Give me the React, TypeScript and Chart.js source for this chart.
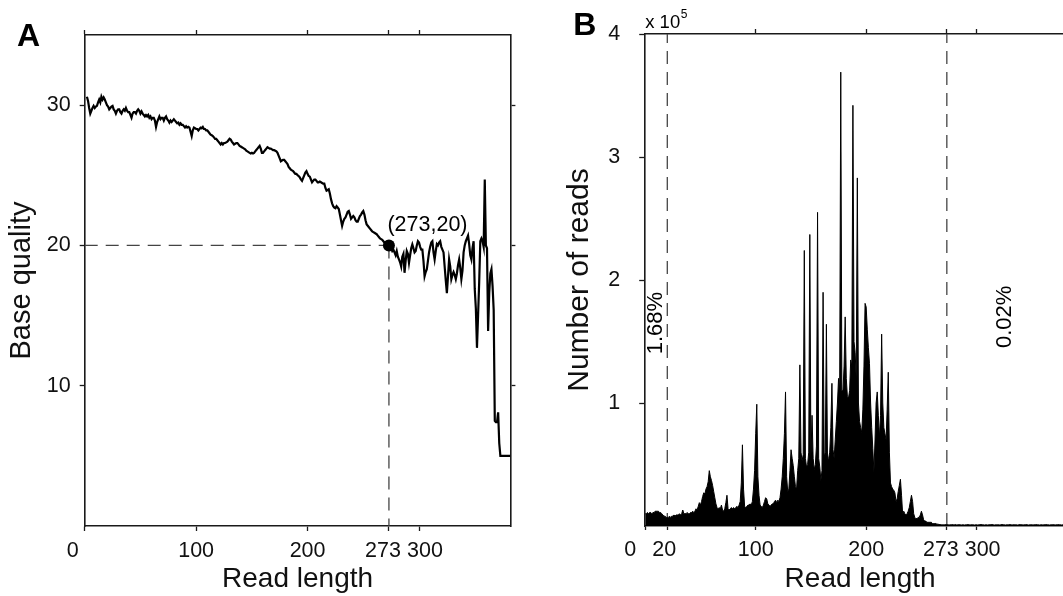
import React, { useEffect, useRef } from "react";
import { Chart, registerables } from "chart.js";

Chart.register(...registerables);

const FONT = '"Liberation Sans", Arial, Helvetica, sans-serif';

// ---------------- Panel A: base quality along the read ----------------
const qualityStartLength = 2; // first read position shown
const baseQuality = [
  30.6, 30.3, 29.8, 29.4, 29.6, 29.8, 29.95, 29.8, 29.9, 29.95,
  30.2, 30.4, 30.2, 30.6, 30.4, 30.55, 30.4, 30.2, 30.0, 29.9,
  29.7, 29.8, 29.9, 29.95, 29.7, 29.6, 29.4, 29.6, 29.7, 29.7,
  29.5, 29.4, 29.6, 29.7, 29.6, 29.8, 29.6, 29.5, 29.5, 29.3,
  29.1, 29.4, 29.5, 29.5, 29.4, 29.6, 29.7, 29.6, 29.4, 29.55,
  29.4, 29.3, 29.2, 29.3, 29.2, 29.3, 29.1, 29.2, 29.0, 29.1,
  29.1, 28.9, 28.45, 28.8, 29.0, 29.2, 29.0, 29.1, 29.1, 28.9,
  29.1, 29.2, 29.0, 28.9, 28.75, 28.9, 28.8, 28.9, 29.0, 28.9,
  28.8, 28.7, 28.75, 28.6, 28.7, 28.6, 28.6, 28.5, 28.4, 28.5,
  28.4, 28.45, 28.4, 28.1, 27.8, 28.2, 28.4, 28.35, 28.3, 28.3,
  28.2, 28.3, 28.4, 28.35, 28.45, 28.3, 28.3, 28.2, 28.2, 28.1,
  28.0, 27.9, 27.85, 27.8, 27.7, 27.6, 27.6, 27.5, 27.4, 27.3,
  27.2, 27.3, 27.2, 27.3, 27.3, 27.35, 27.4, 27.5, 27.6, 27.55,
  27.4, 27.3, 27.2, 27.25, 27.3, 27.3, 27.2, 27.1, 27.05, 27.0,
  26.95, 26.9, 26.85, 26.75, 26.7, 26.65, 26.6, 26.55, 26.6, 26.55,
  26.6, 26.7, 26.8, 26.9, 27.0, 27.1, 26.9, 26.6, 26.6, 26.7,
  26.8, 26.9, 27.0, 26.95, 26.9, 26.9, 26.85, 26.8, 26.8, 26.75,
  26.7, 26.6, 26.4, 26.2, 26.0, 26.05, 26.1, 26.1, 26.0, 25.9,
  25.8, 25.6, 25.5, 25.4, 25.35, 25.3, 25.2, 25.1, 25.1, 25.0,
  24.95, 24.85, 24.7, 24.6, 24.8, 25.0, 25.2, 25.3, 25.1, 24.95,
  24.9, 24.7, 24.5, 24.6, 24.7, 24.7, 24.6, 24.5, 24.5, 24.55,
  24.5, 24.45, 24.4, 24.4, 24.1, 23.9, 23.95, 24.0, 23.7, 23.3,
  23.0, 22.8, 22.7, 22.65, 22.8, 22.7, 22.6, 22.2, 21.8, 21.4,
  21.7, 21.9, 22.0, 22.2, 22.4, 22.45, 22.2, 21.9, 22.0, 22.1,
  22.0, 21.8, 21.7, 21.7, 21.9, 22.1, 22.2, 22.35, 22.45, 22.2,
  21.8, 21.5, 21.4, 21.3, 21.2, 21.1, 21.0, 20.95, 20.9, 20.85,
  20.8, 20.7, 20.6, 20.5, 20.45, 20.4, 20.3, 20.2, 20.15, 20.1,
  20.05, 20.0, 19.9, 19.8, 19.6, 19.7, 19.5, 19.3, 19.6, 19.2,
  19.0, 18.8, 18.5, 19.2, 19.4, 18.05, 18.9, 19.6, 19.4, 18.76,
  19.3, 19.8, 20.07, 19.8, 19.5, 19.6, 20.0, 20.3, 20.2, 19.9,
  19.7, 19.7, 18.9, 17.8, 18.1, 18.3, 18.9, 19.5, 19.9, 20.2,
  20.3, 19.5, 19.0, 19.6, 20.1, 20.0, 20.2, 20.3, 19.9, 19.7,
  19.5, 18.5, 17.5, 16.6, 17.8, 19.0, 18.5, 17.6, 17.9, 18.1,
  17.9, 17.6, 18.0, 18.6, 19.0, 18.4, 17.6, 18.2, 19.5, 20.0,
  20.3, 20.5, 20.7, 20.1, 19.3, 19.0, 19.8, 20.3, 16.9, 15.5,
  12.7, 15.0, 17.4, 20.3, 20.5, 20.3, 19.9, 24.7, 20.0, 19.8,
  13.9, 16.6, 18.0, 18.3, 17.1, 15.4, 7.5, 7.4, 7.4, 8.1,
  5.9, 5.0, 5.0, 5.0, 5.0, 5.0, 5.0, 5.0, 5.0, 5.0, 5.0,
];
const thresholdLength = 273;
const thresholdQuality = 20;
const xTicksA = [0, 100, 200, 273, 300];
const xTickLabelsA = ["0", "100", "200", "273", "300"];
const yTicksA = [10, 20, 30];
const yTickLabelsA = ["10", "20", "30"];

// ---------------- Panel B: read length distribution (x 10^5 reads) ----------------
const readLengthStart = 0;
const readCounts = [
  0.10, 0.10, 0.11, 0.10, 0.11, 0.11, 0.10, 0.11, 0.11, 0.12,
  0.12, 0.12, 0.12, 0.11, 0.11, 0.10, 0.09, 0.08, 0.08, 0.07,
  0.07, 0.07, 0.08, 0.07, 0.08, 0.08, 0.09, 0.08, 0.09, 0.09,
  0.09, 0.10, 0.09, 0.10, 0.13, 0.10, 0.10, 0.10, 0.11, 0.10,
  0.10, 0.11, 0.11, 0.12, 0.11, 0.12, 0.14, 0.13, 0.16, 0.19,
  0.17, 0.20, 0.24, 0.27, 0.26, 0.30, 0.32, 0.36, 0.45, 0.40,
  0.37, 0.33, 0.28, 0.23, 0.18, 0.15, 0.14, 0.15, 0.14, 0.17,
  0.13, 0.12, 0.14, 0.19, 0.25, 0.14, 0.13, 0.14, 0.15, 0.14,
  0.15, 0.14, 0.15, 0.16, 0.15, 0.17, 0.20, 0.35, 0.66, 0.30,
  0.16, 0.15, 0.16, 0.17, 0.17, 0.18, 0.17, 0.20, 0.30, 0.45,
  0.75, 0.99, 0.40, 0.25, 0.17, 0.16, 0.15, 0.17, 0.20, 0.23,
  0.22, 0.18, 0.17, 0.16, 0.17, 0.18, 0.18, 0.20, 0.21, 0.19,
  0.21, 0.20, 0.23, 0.30, 0.40, 0.55, 0.75, 1.09, 0.40, 0.28,
  0.30, 0.45, 0.62, 0.55, 0.49, 0.40, 0.32, 0.30, 0.45, 0.55,
  1.31, 0.60, 0.53, 0.58, 2.24, 0.55, 0.48, 0.50, 0.60, 2.37,
  0.56, 0.90, 0.55, 0.46, 0.50, 0.65, 2.55, 0.55, 0.48, 0.37,
  0.45, 1.90, 0.56, 0.60, 1.64, 0.53, 0.55, 0.60, 0.80, 1.16,
  0.62, 0.55, 0.70, 0.85, 1.00, 1.20, 1.10, 3.69, 1.10, 1.10,
  1.30, 1.70, 1.20, 1.05, 1.04, 1.10, 1.35, 1.30, 3.42, 1.50,
  1.41, 1.20, 2.83, 1.00, 0.85, 0.80, 0.76, 0.95, 1.30, 1.81,
  1.78, 1.60, 1.45, 1.32, 1.00, 0.80, 0.63, 0.44, 0.70, 1.00,
  1.09, 0.90, 0.72, 0.90, 1.56, 1.00, 0.80, 0.75, 0.70, 0.95,
  1.25, 0.60, 0.35, 0.32, 0.30, 0.29, 0.27, 0.20, 0.22, 0.28,
  0.33, 0.38, 0.25, 0.10, 0.12, 0.10, 0.09, 0.10, 0.12, 0.15,
  0.20, 0.25, 0.20, 0.10, 0.07, 0.06, 0.06, 0.07, 0.07, 0.09,
  0.12, 0.09, 0.05, 0.04, 0.04, 0.03, 0.03, 0.03, 0.03, 0.03,
  0.02, 0.02, 0.02, 0.02, 0.015, 0.015, 0.012, 0.012, 0.01, 0.01,
  0.010, 0.010, 0.012, 0.010, 0.010, 0.008, 0.010, 0.010, 0.012, 0.010,
  0.010, 0.012, 0.008, 0.010, 0.010, 0.010, 0.008, 0.010, 0.010, 0.008,
  0.010, 0.010, 0.012, 0.010, 0.008, 0.010, 0.010, 0.010, 0.008, 0.010,
  0.010, 0.008, 0.010, 0.010, 0.012, 0.010, 0.010, 0.008, 0.010, 0.010,
  0.008, 0.010, 0.010, 0.010, 0.012, 0.010, 0.008, 0.010, 0.010, 0.010,
  0.010, 0.008, 0.010, 0.012, 0.010, 0.010, 0.008, 0.010, 0.010, 0.010,
  0.012, 0.010, 0.008, 0.010, 0.010, 0.010, 0.010, 0.008, 0.010, 0.012,
  0.010, 0.010, 0.008, 0.010, 0.010, 0.012, 0.010, 0.008, 0.010, 0.010,
  0.010, 0.008, 0.010, 0.010, 0.012, 0.010, 0.010, 0.008, 0.010, 0.010,
  0.008, 0.010, 0.010, 0.012, 0.010, 0.010, 0.008, 0.010, 0.010, 0.010,
  0.010, 0.008, 0.010, 0.010, 0.012, 0.010, 0.010, 0.008, 0.010, 0.010, 0.010,
];
const cutoffLengths = [20, 273];
const percentLabels = ["1.68%", "0.02%"];
const xTicksB = [0, 20, 100, 200, 273, 300];
const xTickLabelsB = ["0", "20", "100", "200", "273", "300"];
const xTopTicksB = [100, 200, 273, 300];
const yTicksB = [1, 2, 3, 4];
const yTickLabelsB = ["1", "2", "3", "4"];

// ---------------- styling helpers (not data) ----------------
const INK = "#111";
const LINE = "#1a1a1a";
const DASH_COLOR = "#444";
const TICK_FONT = { family: FONT, size: 21.5 };
// spaces used to nudge crowded tick labels sideways: [leading, trailing]
const nudgeA: Record<number, [number, number]> = { 0: [0, 4], 273: [0, 2], 300: [2, 0] };
const nudgeB: Record<number, [number, number]> = { 0: [0, 5], 20: [0, 1], 273: [0, 2], 300: [2, 0] };
const nudge = (label: string, n?: [number, number]) =>
  n ? " ".repeat(n[0]) + label + " ".repeat(n[1]) : label;

function axis(opts: any) {
  const { ticks, labels, size, side, nudges, showLabels, title, tickLen, labelPad, min, max } = opts;
  const horizontal = side === "top" || side === "bottom";
  return {
    type: "linear",
    position: side,
    min,
    max,
    afterBuildTicks: (s: any) => {
      s.ticks = ticks.map((v: number) => ({ value: v }));
    },
    afterFit: (s: any) => {
      if (horizontal) s.height = size;
      else s.width = size;
    },
    grid: {
      display: true,
      drawOnChartArea: false,
      drawTicks: true,
      tickLength: tickLen ?? 5,
      tickColor: LINE,
      tickWidth: 1.3,
    },
    border: { display: true, color: LINE, width: 1.6 },
    ticks: {
      display: !!showLabels,
      autoSkip: false,
      maxRotation: 0,
      minRotation: 0,
      color: INK,
      font: TICK_FONT,
      padding: labelPad ?? 8,
      callback: (v: number) => {
        const i = ticks.indexOf(v);
        const lbl = i >= 0 && labels ? labels[i] : String(v);
        return nudge(lbl, nudges ? nudges[v] : undefined);
      },
    },
    title: title
      ? {
          display: true,
          text: title.text,
          color: INK,
          font: { family: FONT, size: title.size, lineHeight: 1.2 },
          padding: title.padding,
        }
      : { display: false },
  };
}

const annotateA = {
  id: "annotateA",
  afterDraw(chart: any) {
    const { ctx, scales } = chart;
    ctx.save();
    ctx.fillStyle = "#000";
    ctx.textAlign = "left";
    ctx.textBaseline = "alphabetic";
    ctx.font = `bold 32px ${FONT}`;
    ctx.fillText("A", 17, 46);
    ctx.font = `21.5px ${FONT}`;
    ctx.fillText(
      `(${thresholdLength},${thresholdQuality})`,
      scales.x.getPixelForValue(thresholdLength) - 1.5,
      scales.y.getPixelForValue(thresholdQuality) - 14.5
    );
    ctx.restore();
  },
};

const percentLabelPlace = [
  { x: 9.8, y: 1.65 },
  { x: 325.6, y: 1.7 },
];

const annotateB = {
  id: "annotateB",
  afterDraw(chart: any) {
    const { ctx, scales, chartArea } = chart;
    ctx.save();
    ctx.fillStyle = "#000";
    ctx.textAlign = "left";
    ctx.textBaseline = "alphabetic";
    ctx.font = `bold 32px ${FONT}`;
    ctx.fillText("B", 43.3, 35);
    ctx.font = `18.5px ${FONT}`;
    ctx.fillText("x 10", chartArea.left, 28.3);
    const w = ctx.measureText("x 10").width;
    ctx.font = `12px ${FONT}`;
    ctx.fillText("5", chartArea.left + w + 0.5, 17.5);
    ctx.font = `22px ${FONT}`;
    ctx.textAlign = "center";
    ctx.textBaseline = "middle";
    percentLabels.forEach((t, i) => {
      const px = scales.x.getPixelForValue(percentLabelPlace[i].x);
      const py = scales.y.getPixelForValue(percentLabelPlace[i].y);
      ctx.save();
      ctx.translate(px, py);
      ctx.rotate(-Math.PI / 2);
      ctx.fillText(t, 0, 0);
      ctx.restore();
    });
    ctx.restore();
  },
};

export default function App() {
  const refA = useRef<HTMLCanvasElement | null>(null);
  const refB = useRef<HTMLCanvasElement | null>(null);

  useEffect(() => {
    Chart.defaults.font.family = FONT;
    Chart.defaults.color = INK;

    const qualityPoints = baseQuality.map((q, i) => ({ x: qualityStartLength + i, y: q }));
    const chartA = new Chart(refA.current as HTMLCanvasElement, {
      type: "line",
      data: {
        datasets: [
          {
            data: [{ x: thresholdLength, y: thresholdQuality }],
            showLine: false,
            pointRadius: 6,
            pointBackgroundColor: "#000",
            pointBorderColor: "#000",
            pointBorderWidth: 0,
          } as any,
          {
            data: qualityPoints,
            borderColor: "#000",
            borderWidth: 2.2,
            pointRadius: 0,
            tension: 0,
            fill: false,
          },
          {
            data: [
              { x: 0, y: thresholdQuality },
              { x: thresholdLength, y: thresholdQuality },
            ],
            borderColor: DASH_COLOR,
            borderWidth: 1.3,
            borderDash: [13, 8],
            pointRadius: 0,
          },
          {
            data: [
              { x: thresholdLength, y: thresholdQuality },
              { x: thresholdLength, y: 0 },
            ],
            borderColor: DASH_COLOR,
            borderWidth: 1.3,
            borderDash: [13, 8],
            pointRadius: 0,
          },
        ],
      },
      options: {
        responsive: false,
        animation: false,
        devicePixelRatio: 1,
        layout: { padding: 0 },
        plugins: { legend: { display: false }, tooltip: { enabled: false } },
        scales: {
          x: axis({
            ticks: xTicksA, labels: xTickLabelsA, size: 70, side: "bottom", nudges: nudgeA,
            showLabels: true, min: 0, max: 382, labelPad: 7,
            title: { text: "Read length", size: 28, padding: { top: 0, bottom: 0 } },
          }),
          xTop: axis({ ticks: xTicksA, size: 35, side: "top", min: 0, max: 382 }),
          y: axis({
            ticks: yTicksA, labels: yTickLabelsA, size: 84.7, side: "left", showLabels: true,
            min: 0, max: 35, labelPad: 9,
            title: { text: "Base quality", size: 29, padding: { top: 4.5, bottom: 0 } },
          }),
          yRight: axis({ ticks: yTicksA, size: 19.6, side: "right", min: 0, max: 35 }),
        } as any,
      },
      plugins: [annotateA],
    } as any);

    const countPoints = readCounts.map((c, i) => ({ x: readLengthStart + i, y: c }));
    const cutoffSets = cutoffLengths.map((len) => ({
      data: [
        { x: len, y: 0 },
        { x: len, y: 4 },
      ],
      borderColor: DASH_COLOR,
      borderWidth: 1.3,
      borderDash: [13, 8],
      pointRadius: 0,
    }));
    const chartB = new Chart(refB.current as HTMLCanvasElement, {
      type: "line",
      data: {
        datasets: [
          {
            data: countPoints,
            borderColor: "#000",
            borderWidth: 1,
            backgroundColor: "#000",
            fill: "origin",
            pointRadius: 0,
            tension: 0,
          },
          ...cutoffSets,
        ],
      },
      options: {
        responsive: false,
        animation: false,
        devicePixelRatio: 1,
        layout: { padding: 0 },
        plugins: { legend: { display: false }, tooltip: { enabled: false } },
        scales: {
          x: axis({
            ticks: xTicksB, labels: xTickLabelsB, size: 70, side: "bottom", nudges: nudgeB,
            showLabels: true, min: 0, max: 389, labelPad: 7, tickLen: 4,
            title: { text: "Read length", size: 28, padding: { top: 0, bottom: 0 } },
          }),
          xTop: axis({ ticks: xTopTicksB, size: 34, side: "top", min: 0, max: 389 }),
          y: axis({
            ticks: yTicksB, labels: yTickLabelsB, size: 115.2, side: "left", showLabels: true,
            min: 0, max: 4, labelPad: 19, tickLen: 6,
            title: { text: "Number of reads", size: 30, padding: { top: 32, bottom: 0 } },
          }),
        } as any,
      },
      plugins: [annotateB],
    } as any);

    return () => {
      chartA.destroy();
      chartB.destroy();
    };
  }, []);

  return (
    <div
      style={{
        position: "fixed",
        left: 0,
        top: 0,
        width: 1063,
        height: 596,
        overflow: "hidden",
        background: "#fff",
      }}
    >
      <canvas ref={refA} width={530} height={596} style={{ position: "absolute", left: 0, top: 0 }} />
      <canvas ref={refB} width={545} height={596} style={{ position: "absolute", left: 530, top: 0 }} />
    </div>
  );
}
